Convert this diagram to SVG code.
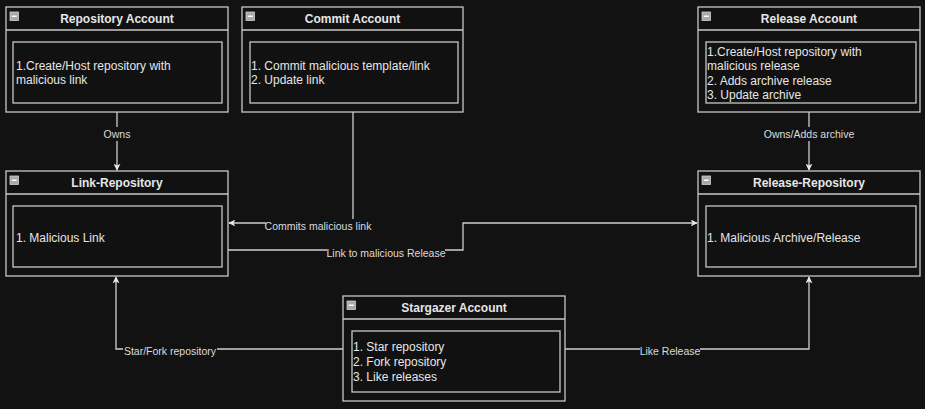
<svg xmlns="http://www.w3.org/2000/svg" width="925" height="409" viewBox="0 0 925 409">
<defs>
<style>
.box{fill:#111111;stroke:#c8c8c8;stroke-width:1.3}
.inner{fill:#111111;stroke:#c8c8c8;stroke-width:1.3}
.hdr{stroke:#c8c8c8;stroke-width:1.3}
.title{font-family:"Liberation Sans",Arial,sans-serif;font-size:12px;font-weight:bold;fill:#e6e6e6;text-anchor:middle}
.body{font-family:"Liberation Sans",Arial,sans-serif;font-size:12px;fill:#e6e6e6}
.lbl{font-family:"Liberation Sans",Arial,sans-serif;font-size:10.5px;fill:#dcdcdc;text-anchor:middle}
.lblbg{fill:#121212}
.edge{fill:none;stroke:#cfcfcf;stroke-width:1.3}
.icon{fill:#a8a8b0;stroke:#d0d0d0;stroke-width:0.8}
.iconbar{stroke:#ffffff;stroke-width:1.5}
</style>
<marker id="arr" viewBox="0 0 10 10" refX="9" refY="5" markerWidth="7" markerHeight="7" orient="auto" markerUnits="userSpaceOnUse">
<path d="M0,0 L10,5 L0,10 L2.5,5 Z" fill="#e8e8e8"/>
</marker>
<g id="ic"><rect class="icon" x="0" y="0" width="8.5" height="8.5"/><line class="iconbar" x1="1.8" y1="4.25" x2="6.7" y2="4.25"/></g>
</defs>
<rect x="0" y="0" width="925" height="409" fill="#121212"/>

<g id="connectors">
<path class="edge" d="M117,112 V170" marker-end="url(#arr)"/>
<path class="edge" d="M809,112 V170" marker-end="url(#arr)"/>
<path class="edge" d="M353,112 V223 H229" marker-end="url(#arr)"/>
<path class="edge" d="M228,250 H463 V223 H697" marker-end="url(#arr)"/>
<path class="edge" d="M343,349 H116 V277" marker-end="url(#arr)"/>
<path class="edge" d="M565,349 H809 V277" marker-end="url(#arr)"/>
<rect class="lblbg" x="104" y="127" width="26" height="14"/>
<text class="lbl" x="117" y="138">Owns</text>
<rect class="lblbg" x="762" y="127" width="94" height="14"/>
<text class="lbl" x="809" y="138">Owns/Adds archive</text>
<rect class="lblbg" x="266" y="219" width="104" height="14"/>
<text class="lbl" x="318" y="230">Commits malicious link</text>
<rect class="lblbg" x="327" y="246" width="118" height="14"/>
<text class="lbl" x="386" y="257">Link to malicious Release</text>
<rect class="lblbg" x="123" y="344" width="94" height="14"/>
<text class="lbl" x="170" y="355">Star/Fork repository</text>
<rect class="lblbg" x="640" y="344" width="60" height="14"/>
<text class="lbl" x="670" y="355">Like Release</text>
</g>

<g id="repository-account">
<rect class="box" x="6" y="7" width="222" height="105"/>
<line class="hdr" x1="6" y1="30" x2="228" y2="30"/>
<use href="#ic" x="10" y="12"/>
<text class="title" x="117" y="23">Repository Account</text>
<rect class="inner" x="13" y="42" width="209" height="61"/>
<text class="body" x="16" y="70">1.Create/Host repository with</text>
<text class="body" x="16" y="84">malicious link</text>
</g>

<g id="commit-account">
<rect class="box" x="242" y="7" width="221" height="105"/>
<line class="hdr" x1="242" y1="30" x2="463" y2="30"/>
<use href="#ic" x="246" y="12"/>
<text class="title" x="352.5" y="23">Commit Account</text>
<rect class="inner" x="250" y="42" width="208" height="61"/>
<text class="body" x="251" y="70">1. Commit malicious template/link</text>
<text class="body" x="251" y="84">2. Update link</text>
</g>

<g id="release-account">
<rect class="box" x="698" y="7" width="222" height="105"/>
<line class="hdr" x1="698" y1="30" x2="920" y2="30"/>
<use href="#ic" x="702" y="12"/>
<text class="title" x="809" y="23">Release Account</text>
<rect class="inner" x="706" y="42" width="210" height="61"/>
<text class="body" x="707" y="56">1.Create/Host repository with</text>
<text class="body" x="707" y="70">malicious release</text>
<text class="body" x="707" y="85">2. Adds archive release</text>
<text class="body" x="707" y="99">3. Update archive</text>
</g>

<g id="link-repository">
<rect class="box" x="6" y="171" width="222" height="105"/>
<line class="hdr" x1="6" y1="194" x2="228" y2="194"/>
<use href="#ic" x="10" y="176"/>
<text class="title" x="117" y="187">Link-Repository</text>
<rect class="inner" x="13" y="206" width="209" height="61"/>
<text class="body" x="16" y="242">1. Malicious Link</text>
</g>

<g id="release-repository">
<rect class="box" x="698" y="171" width="222" height="105"/>
<line class="hdr" x1="698" y1="194" x2="920" y2="194"/>
<use href="#ic" x="702" y="176"/>
<text class="title" x="809" y="187">Release-Repository</text>
<rect class="inner" x="706" y="206" width="210" height="61"/>
<text class="body" x="707" y="242">1. Malicious Archive/Release</text>
</g>

<g id="stargazer-account">
<rect class="box" x="343" y="296" width="222" height="105"/>
<line class="hdr" x1="343" y1="319" x2="565" y2="319"/>
<use href="#ic" x="347" y="301"/>
<text class="title" x="454" y="312">Stargazer Account</text>
<rect class="inner" x="352" y="331" width="208" height="61"/>
<text class="body" x="353" y="351">1. Star repository</text>
<text class="body" x="353" y="366">2. Fork repository</text>
<text class="body" x="353" y="381">3. Like releases</text>
</g>
</svg>
